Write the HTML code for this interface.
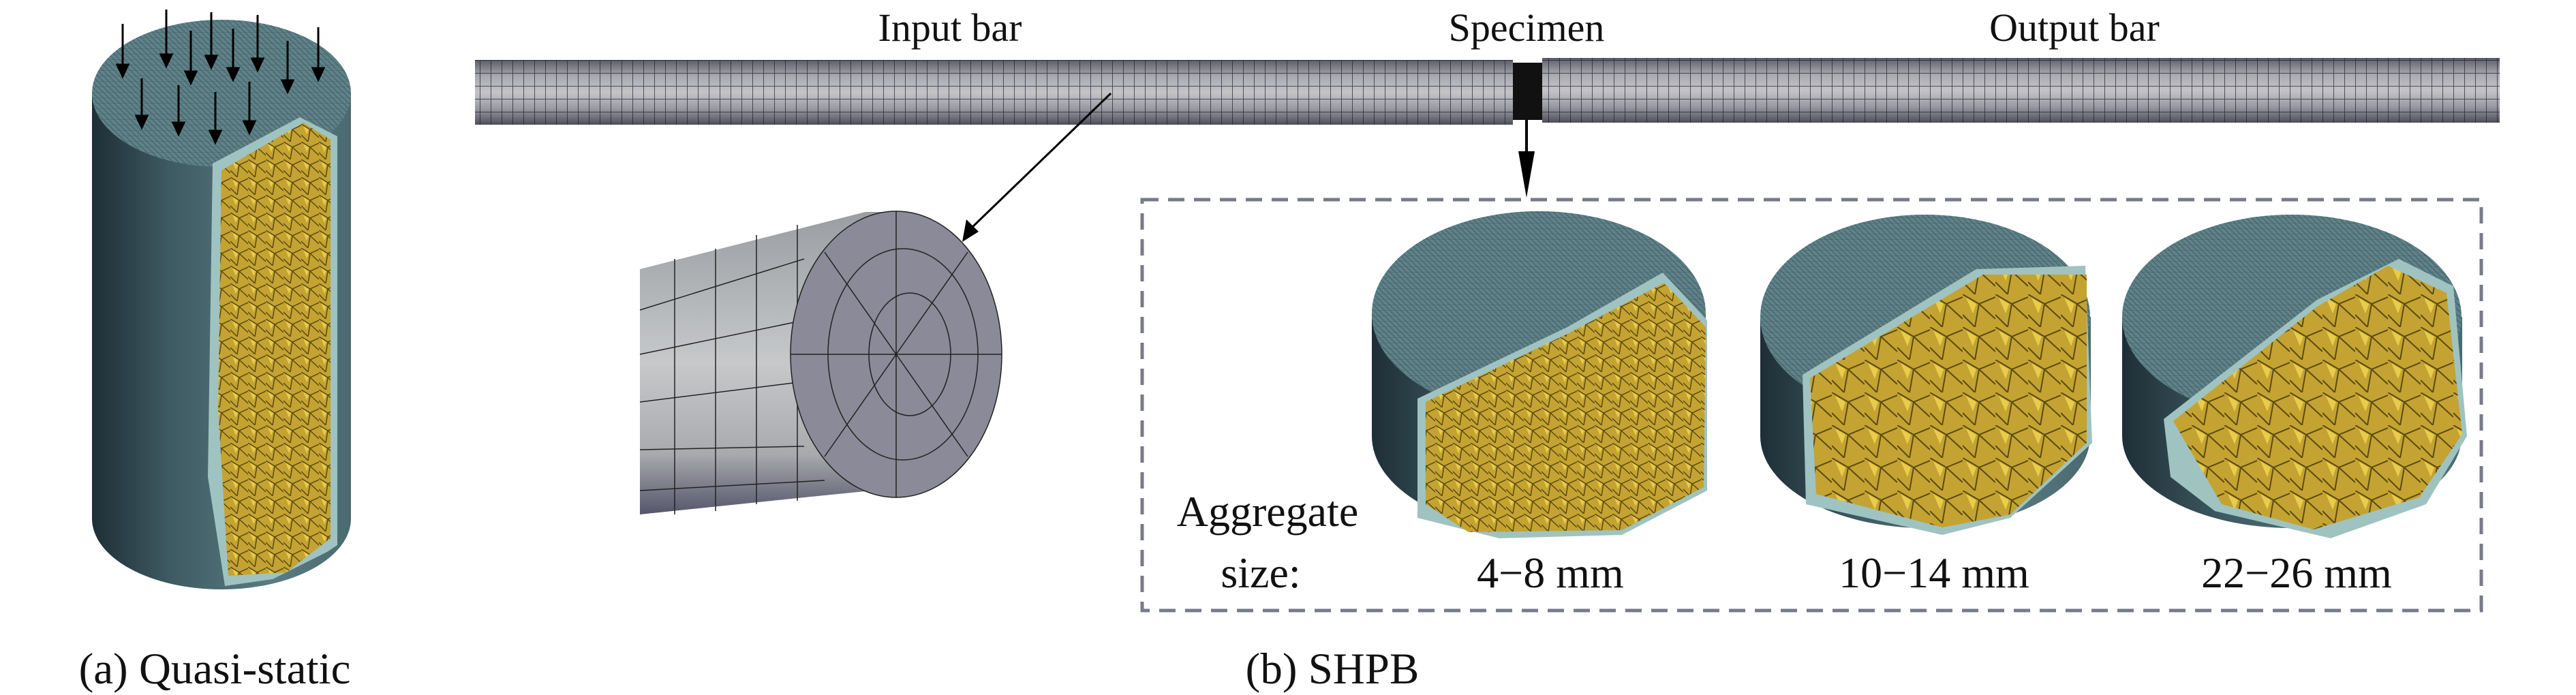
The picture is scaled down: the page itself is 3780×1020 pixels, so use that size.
<!DOCTYPE html>
<html><head><meta charset="utf-8"><style>
html,body{margin:0;padding:0;background:#fff;}
svg{display:block;}
text{font-family:"Liberation Serif",serif;fill:#111;}
</style></head><body>
<svg width="3780" height="1020" viewBox="0 0 3780 1020" xmlns="http://www.w3.org/2000/svg">
<defs>
<linearGradient id="barg" x1="0" y1="0" x2="0" y2="1">
<stop offset="0" stop-color="#5c5c68"/><stop offset="0.25" stop-color="#a8a8b0"/><stop offset="0.5" stop-color="#c4c4c8"/><stop offset="0.75" stop-color="#9a9aa4"/><stop offset="1" stop-color="#4e4e5a"/></linearGradient>
<pattern id="barmesh" width="16" height="19" patternUnits="userSpaceOnUse" y="88">
<path d="M0 0V19M0 0H16" stroke="#1e1e28" stroke-width="2" fill="none"/></pattern>
<linearGradient id="tealside" x1="0" y1="0" x2="1" y2="0">
<stop offset="0" stop-color="#1e2e36"/><stop offset="0.3" stop-color="#3e5a62"/><stop offset="0.7" stop-color="#5a7c82"/><stop offset="1" stop-color="#4a6a70"/></linearGradient>
<pattern id="tmesh" width="8" height="8" patternUnits="userSpaceOnUse">
<path d="M0 0L8 8M0 8H8" stroke="#243a40" stroke-width="0.8" fill="none" opacity="0.6"/></pattern>
<pattern id="gmesh" width="26" height="26" patternUnits="userSpaceOnUse">
<rect width="26" height="26" fill="#c4a332"/><path d="M0 0L13 8L26 2M13 8L10 26M13 8L26 20M0 16L10 26" stroke="#5a4a10" stroke-width="1.5" fill="none"/><path d="M3 3L11 8L8 15Z" fill="#e8cc4a"/></pattern>
<pattern id="gmeshL" width="48" height="48" patternUnits="userSpaceOnUse">
<rect width="48" height="48" fill="#c4a332"/><path d="M0 0L24 14L48 4M24 14L18 48M24 14L48 36M0 30L18 48" stroke="#5a4a10" stroke-width="2" fill="none"/><path d="M5 5L20 14L15 28Z" fill="#e8cc4a"/></pattern>
<linearGradient id="grayside" x1="0" y1="0" x2="0" y2="1"><stop offset="0" stop-color="#9a9ea2"/><stop offset="0.5" stop-color="#c6c8ca"/><stop offset="0.8" stop-color="#a8aaae"/><stop offset="1" stop-color="#55556a"/></linearGradient>
</defs>

<rect x="135" y="137" width="380" height="624" fill="url(#tealside)"/>
<ellipse cx="325" cy="761" rx="190" ry="104" fill="url(#tealside)"/>
<ellipse cx="325" cy="137" rx="190" ry="108" fill="#5e8288"/>
<ellipse cx="325" cy="137" rx="190" ry="108" fill="url(#tmesh)"/>
<polygon points="312,240 440,172 495,200 495,800 480,810 400,850 330,860 305,700" fill="#9fc3c0"/>
<polygon points="325,250 445,180 485,205 485,790 420,840 335,845 320,600" fill="url(#gmesh)"/>
<g stroke="#000" stroke-width="3" fill="#000">
<line x1="180" y1="35" x2="180" y2="95"/><polygon points="172,95 188,95 180,112"/>
<line x1="244" y1="14" x2="244" y2="80"/><polygon points="236,80 252,80 244,97"/>
<line x1="280" y1="45" x2="280" y2="105"/><polygon points="272,105 288,105 280,122"/>
<line x1="310" y1="18" x2="310" y2="82"/><polygon points="302,82 318,82 310,99"/>
<line x1="342" y1="42" x2="342" y2="100"/><polygon points="334,100 350,100 342,117"/>
<line x1="378" y1="22" x2="378" y2="86"/><polygon points="370,86 386,86 378,103"/>
<line x1="422" y1="60" x2="422" y2="118"/><polygon points="414,118 430,118 422,135"/>
<line x1="467" y1="40" x2="467" y2="100"/><polygon points="459,100 475,100 467,117"/>
<line x1="208" y1="115" x2="208" y2="170"/><polygon points="200,170 216,170 208,187"/>
<line x1="262" y1="125" x2="262" y2="180"/><polygon points="254,180 270,180 262,197"/>
<line x1="316" y1="135" x2="316" y2="192"/><polygon points="308,192 324,192 316,209"/>
<line x1="366" y1="120" x2="366" y2="178"/><polygon points="358,178 374,178 366,195"/>
</g>
<text x="315" y="1003" font-size="65" text-anchor="middle">(a) Quasi-static</text>

<rect x="697" y="88" width="1523" height="95" fill="url(#barg)"/>
<rect x="697" y="88" width="1523" height="95" fill="url(#barmesh)" opacity="0.7"/>
<rect x="2263" y="85" width="1405" height="95" fill="url(#barg)"/>
<rect x="2263" y="85" width="1405" height="95" fill="url(#barmesh)" opacity="0.7"/>
<rect x="2220" y="92" width="43" height="84" fill="#111"/>
<text x="1394" y="60" font-size="58" text-anchor="middle">Input bar</text>
<text x="2240" y="60" font-size="58" text-anchor="middle">Specimen</text>
<text x="3044" y="60" font-size="58" text-anchor="middle">Output bar</text>

<line x1="1630" y1="137" x2="1425" y2="335" stroke="#000" stroke-width="3"/>
<polygon points="1412,355 1418,322 1436,340" fill="#000"/>
<line x1="2240" y1="176" x2="2240" y2="230" stroke="#000" stroke-width="4"/>
<polygon points="2228,222 2252,222 2240,290" fill="#000"/>

<polygon points="939,395 1270,311 1310,311 1330,715 1180,730 939,755" fill="url(#grayside)"/>
<g stroke="#222" stroke-width="1.5" fill="none">
<path d="M939,455 L1180,380 M939,520 L1180,470 M939,590 L1180,560 M939,660 L1180,655 M939,720 L1210,705"/>
<path d="M990,380 L990,755 M1050,365 L1050,750 M1110,345 L1110,740 M1170,330 L1170,735"/>
</g>
<ellipse cx="1315" cy="520" rx="155" ry="210" fill="#8a8a98"/>
<g stroke="#222" stroke-width="1.5" fill="none">
<ellipse cx="1315" cy="520" rx="155" ry="210"/>
<ellipse cx="1325" cy="520" rx="110" ry="155"/>
<ellipse cx="1335" cy="520" rx="60" ry="90"/>
<path d="M1160,520 H1470 M1315,310 V730 M1210,370 L1420,670 M1420,370 L1210,670"/>
</g>

<rect x="1676" y="293" width="1965" height="603" fill="none" stroke="#777b88" stroke-width="5" stroke-dasharray="24,14"/>
<text x="1860" y="772" font-size="64" text-anchor="middle">Aggregate</text>
<text x="1850" y="862" font-size="64" text-anchor="middle">size:</text>
<text x="2275" y="862" font-size="64" text-anchor="middle">4−8 mm</text>
<text x="2838" y="862" font-size="64" text-anchor="middle">10−14 mm</text>
<text x="3370" y="862" font-size="64" text-anchor="middle">22−26 mm</text>

<g>
<rect x="2013" y="460" width="490" height="180" fill="url(#tealside)"/>
<ellipse cx="2258" cy="640" rx="245" ry="140" fill="url(#tealside)"/>
<ellipse cx="2258" cy="460" rx="245" ry="150" fill="#5e8288"/>
<ellipse cx="2258" cy="460" rx="245" ry="150" fill="url(#tmesh)"/>
<polygon points="2080,585 2300,480 2440,400 2505,470 2505,720 2380,785 2200,790 2080,760" fill="#9fc3c0"/>
<polygon points="2092,590 2300,490 2442,415 2503,480 2500,715 2380,778 2155,781 2092,740" fill="url(#gmesh)"/>
</g>
<g>
<rect x="2583" y="465" width="485" height="175" fill="url(#tealside)"/>
<ellipse cx="2825" cy="640" rx="242" ry="135" fill="url(#tealside)"/>
<ellipse cx="2825" cy="465" rx="242" ry="150" fill="#5e8288"/>
<ellipse cx="2825" cy="465" rx="242" ry="150" fill="url(#tmesh)"/>
<polygon points="2645,550 2900,395 3060,390 3070,650 2950,760 2850,785 2650,740" fill="#9fc3c0"/>
<polygon points="2656,555 2910,403 3062,403 3062,650 2950,755 2850,774 2665,725" fill="url(#gmeshL)"/>
</g>
<g>
<rect x="3114" y="465" width="499" height="175" fill="url(#tealside)"/>
<ellipse cx="3363" cy="640" rx="249" ry="135" fill="url(#tealside)"/>
<ellipse cx="3363" cy="465" rx="249" ry="150" fill="#5e8288"/>
<ellipse cx="3363" cy="465" rx="249" ry="150" fill="url(#tmesh)"/>
<polygon points="3175,615 3400,440 3520,380 3600,420 3620,640 3560,740 3420,790 3250,750 3185,700" fill="#9fc3c0"/>
<polygon points="3189,618 3400,450 3504,390 3590,430 3613,637 3550,730 3395,777 3260,740" fill="url(#gmeshL)"/>
</g>
<text x="1955" y="1003" font-size="65" text-anchor="middle">(b) SHPB</text>
</svg>
</body></html>
